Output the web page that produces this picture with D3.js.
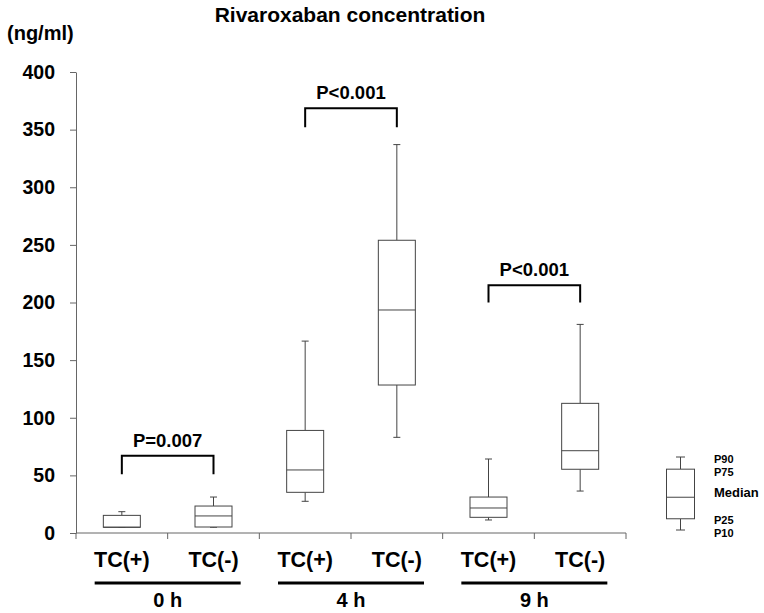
<!DOCTYPE html>
<html><head><meta charset="utf-8">
<script src="https://cdn.jsdelivr.net/npm/d3@7"></script>
<style>body{margin:0;background:#fff}svg{display:block;font-family:"Liberation Sans",Arial,sans-serif;font-weight:bold}</style>
</head><body>
<script>
// ---- data ----
const categories = ["0h TC(+)", "0h TC(-)", "4h TC(+)", "4h TC(-)", "9h TC(+)", "9h TC(-)"];
const categoryLabels = ["TC(+)", "TC(-)", "TC(+)", "TC(-)", "TC(+)", "TC(-)"];
const p10 =    [5,   5,   27.5, 83,    11.3, 36.4];
const p25 =    [5,   5.2, 35.3, 128.4, 13.6, 55.3];
const median = [5,   14.8, 54.7, 193.5, 21.7, 71.4];
const p75 =    [15.3, 23.4, 89,  254,   31.2, 112.5];
const p90 =    [18.5, 31.2, 166.5, 337, 64.2, 181];
const groups = ["0 h", "4 h", "9 h"];
const comparisons = [
  {a: 0, b: 1, label: "P=0.007", level: 67, foot: 51},
  {a: 2, b: 3, label: "P<0.001", level: 368.5, foot: 352},
  {a: 4, b: 5, label: "P<0.001", level: 215, foot: 200}
];
const yTicks = [0, 50, 100, 150, 200, 250, 300, 350, 400];
const legendStats = {p10: 0, p25: 12, median: 35, p75: 65, p90: 78};
const legendLabels = ["P90", "P75", "Median", "P25", "P10"];

// ---- chart ----
const W = 764, H = 613;
const svg = d3.select("body").append("svg").attr("width", W).attr("height", H);
const y = d3.scaleLinear().domain([0, 400]).range([533, 72]);
const x = d3.scaleBand().domain(categories).range([76, 626]).padding(0);
const boxW = 37;
const lineCol = "#444";

// y axis
const yAxis = svg.append("g").attr("transform", "translate(76,0)")
  .call(d3.axisLeft(y).tickValues(yTicks).tickSize(6).tickSizeOuter(0).tickPadding(15));
yAxis.select(".domain").attr("stroke", "#666");
yAxis.selectAll(".tick line").attr("stroke", "#666");
yAxis.selectAll(".tick text").attr("font-size", 19.5).attr("font-weight", "bold").attr("fill", "#000")
  .attr("font-family", "Liberation Sans, Arial, sans-serif");

// x axis line with boundary ticks
const bounds = categories.map(c => x(c)).concat([x.range()[1]]);
svg.append("line").attr("x1", 76).attr("x2", 626).attr("y1", y(0)).attr("y2", y(0)).attr("stroke", "#666");
svg.selectAll(".xb").data(bounds).enter().append("line")
  .attr("x1", d => d).attr("x2", d => d).attr("y1", y(0)).attr("y2", y(0) + 6).attr("stroke", "#666");

// category labels
svg.selectAll(".cl").data(categories).enter().append("text")
  .attr("x", d => x(d) + x.bandwidth() / 2).attr("y", 567)
  .attr("text-anchor", "middle").attr("font-size", 21.5).text((d, i) => categoryLabels[i]);

// group bars and labels
groups.forEach((g, gi) => {
  const cx = (x(categories[gi * 2]) + x(categories[gi * 2 + 1]) + x.bandwidth()) / 2;
  svg.append("line").attr("x1", cx - 73).attr("x2", cx + 73).attr("y1", 583).attr("y2", 583)
    .attr("stroke", "#000").attr("stroke-width", 3);
  svg.append("text").attr("x", cx).attr("y", 607).attr("text-anchor", "middle").attr("font-size", 20).text(g);
});

// boxes
function drawBox(g, cx, w, ys, s, cap) {
  g.append("line").attr("x1", cx).attr("x2", cx).attr("y1", ys(s.p75)).attr("y2", ys(s.p90)).attr("stroke", lineCol);
  g.append("line").attr("x1", cx).attr("x2", cx).attr("y1", ys(s.p25)).attr("y2", ys(s.p10)).attr("stroke", lineCol);
  g.append("line").attr("x1", cx - cap).attr("x2", cx + cap).attr("y1", ys(s.p90)).attr("y2", ys(s.p90)).attr("stroke", lineCol);
  g.append("line").attr("x1", cx - cap).attr("x2", cx + cap).attr("y1", ys(s.p10)).attr("y2", ys(s.p10)).attr("stroke", lineCol);
  g.append("rect").attr("x", cx - w / 2).attr("width", w).attr("y", ys(s.p75)).attr("height", ys(s.p25) - ys(s.p75))
    .attr("fill", "#fff").attr("stroke", lineCol);
  g.append("line").attr("x1", cx - w / 2).attr("x2", cx + w / 2).attr("y1", ys(s.median)).attr("y2", ys(s.median)).attr("stroke", lineCol);
}
const boxes = svg.append("g");
categories.forEach((c, i) => {
  const cx = x(c) + x.bandwidth() / 2;
  drawBox(boxes.append("g"), cx, boxW, y, {p10: p10[i], p25: p25[i], median: median[i], p75: p75[i], p90: p90[i]}, 3.5);
});

// comparison brackets
comparisons.forEach(cmp => {
  const xa = x(categories[cmp.a]) + x.bandwidth() / 2;
  const xb = x(categories[cmp.b]) + x.bandwidth() / 2;
  svg.append("path").attr("d", `M${xa},${y(cmp.foot)}V${y(cmp.level)}H${xb}V${y(cmp.foot)}`)
    .attr("fill", "none").attr("stroke", "#000").attr("stroke-width", 2);
  svg.append("text").attr("x", (xa + xb) / 2).attr("y", y(cmp.level) - 9).attr("text-anchor", "middle")
    .attr("font-size", 18.5).text(cmp.label);
});

// title & unit
svg.append("text").attr("x", 350).attr("y", 22).attr("text-anchor", "middle").attr("font-size", 21).text("Rivaroxaban concentration");
svg.append("text").attr("x", 7).attr("y", 40).attr("font-size", 20).text("(ng/ml)");

// legend
const ly = d3.scaleLinear().domain([0, 78]).range([530, 457]);
const lg = svg.append("g");
drawBox(lg, 680.5, 28, ly, legendStats, 4.5);
const labelY = [462.5, 475.5, 497, 524, 537];
const labelSize = [11, 11, 13, 11, 11];
legendLabels.forEach((t, i) => {
  lg.append("text").attr("x", 714).attr("y", labelY[i]).attr("font-size", labelSize[i]).text(t);
});
</script>
</body></html>
